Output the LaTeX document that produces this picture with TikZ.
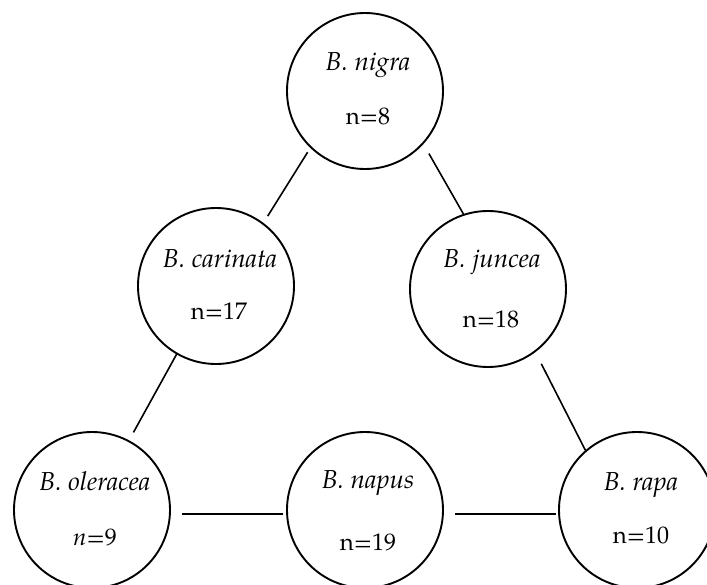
\documentclass[tikz,border=0pt]{standalone}
\usepackage{fontspec}
\setmainfont{TeX Gyre Pagella}
\begin{document}
\begin{tikzpicture}[x=1pt,y=-1pt,
  species/.style={circle,draw,line width=1.9pt,minimum size=156pt,inner sep=0pt,outer sep=0pt},
  txt/.style={anchor=base,inner sep=0pt,font=\fontsize{24}{28}\selectfont},
  nametxt/.style={txt,font=\fontsize{26}{30}\selectfont\itshape},
  link/.style={line width=1.6pt}]
\useasboundingbox (0,0) rectangle (707,584);
\node[species] (nigra) at (365,91) {};
\node[species] (carinata) at (216,286) {};
\node[species] (juncea) at (488,289) {};
\node[species] (oleracea) at (92,510) {};
\node[species] (napus) at (365,510) {};
\node[species] (rapa) at (637,510) {};
\node[nametxt] (t1) at (368,70) {B. nigra};
\node[txt] (n1) at (368,124) {n=8};
\node[nametxt] (t2) at (220,267) {B. carinata};
\node[txt] (n2) at (219,319) {n=17};
\node[nametxt] (t3) at (492,267) {B. juncea};
\node[txt] (n3) at (491,327) {n=18};
\node[nametxt] (t4) at (95,490) {B. oleracea};
\node[txt] (n4) at (95,545) {\textit{n}=9};
\node[nametxt] (t5) at (368,488) {B. napus};
\node[txt] (n5) at (368,550) {n=19};
\node[nametxt] (t6) at (641,490) {B. rapa};
\node[txt] (n6) at (641,543) {n=10};
\draw[link,shorten <=6pt,shorten >=9pt] (nigra.226) -- (carinata.53);
\draw[link,shorten <=12pt,shorten >=1pt] (nigra.318) -- (juncea.108);
\draw[link,shorten <=0pt,shorten >=10pt] (carinata.240) -- (oleracea.62);
\draw[link,shorten <=14pt,shorten >=1pt] (juncea.307) -- (rapa.131);
\draw[link,shorten <=12pt,shorten >=4pt] (oleracea.-3) -- (napus.183);
\draw[link,shorten <=12pt,shorten >=3pt] (napus.-3) -- (rapa.183);
\end{tikzpicture}
\end{document}
